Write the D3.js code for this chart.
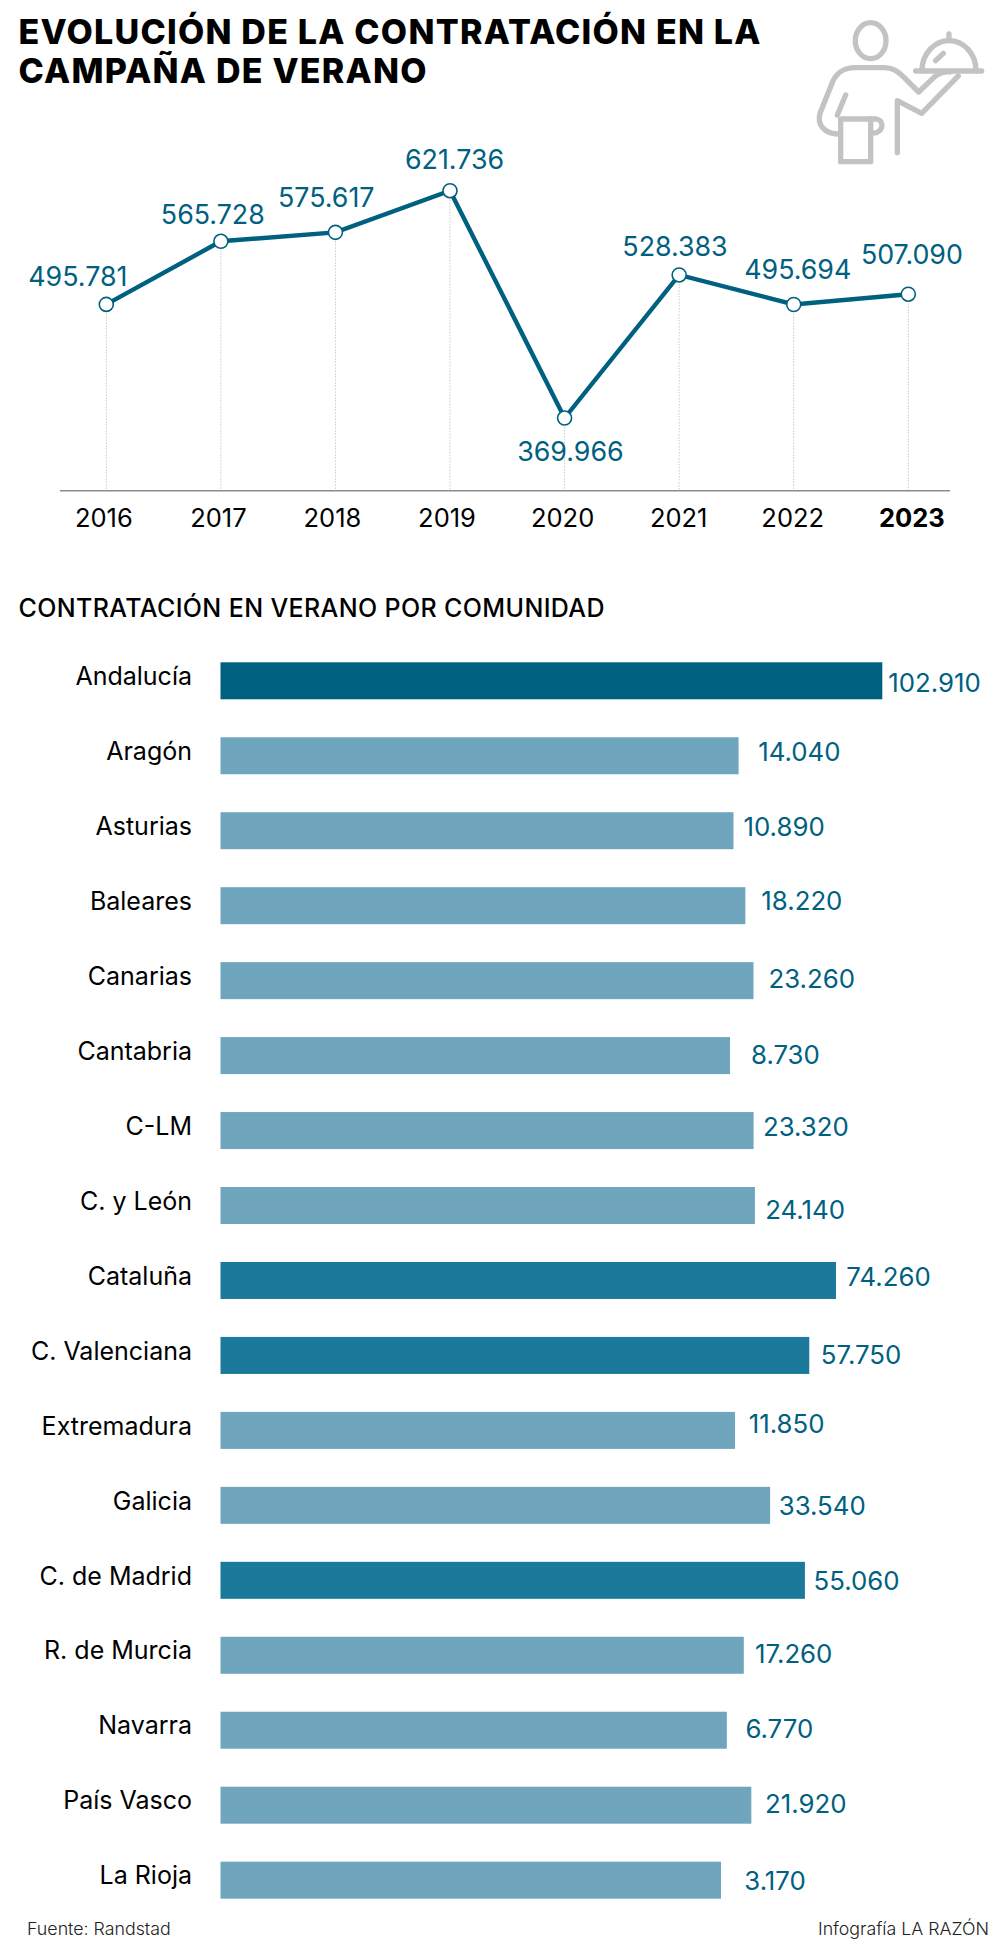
<!DOCTYPE html>
<html lang="es">
<head>
<meta charset="utf-8">
<title>Evolución de la contratación en la campaña de verano</title>
<script src="https://cdn.jsdelivr.net/npm/d3@7"></script>
<style>
  html, body { margin: 0; padding: 0; background: #fff; }
  svg { display: block; }
  text { font-family: Inter, sans-serif; }
</style>
</head>
<body>
<div id="chart"></div>
<script>
// Line chart data
const years = ["2016", "2017", "2018", "2019", "2020", "2021", "2022", "2023"];
const yearValues = [495781, 565728, 575617, 621736, 369966, 528383, 495694, 507090];

// Bar chart data
const regions = ["Andalucía", "Aragón", "Asturias", "Baleares", "Canarias", "Cantabria", "C-LM", "C. y León", "Cataluña",
  "C. Valenciana", "Extremadura", "Galicia", "C. de Madrid", "R. de Murcia", "Navarra", "País Vasco", "La Rioja"];
const regionValues = [102910, 14040, 10890, 18220, 23260, 8730, 23320, 24140, 74260, 57750, 11850, 33540, 55060, 17260, 6770, 21920, 3170];

// Hand placed labels in the original, so the nudges are kept apart from the values
const yearLabelNudge = [[-78, -18.3], [-60, -17.7], [-57.4, -25.3], [-45, -21.7], [-47.4, 42.7], [-56.8, -19.3], [-49.5, -25.6], [-47.4, -30.6]];
const yearTickNudge = [-3, -3, -3.5, -3.5, -2.5, -1, -1.5, 3];
const barLabelGap = [6, 19.6, 10, 16, 15, 21, 9.4, 10.3, 10.4, 11.6, 13.7, 8.6, 8.7, 11.3, 18.6, 13.7, 23.3];
const barLabelBase = [29.7, 23.7, 23.5, 22.8, 25.9, 26.6, 23.9, 32.3, 23.7, 27, 21, 28.1, 28.5, 25.9, 26.3, 26.3, 28.3];

const width = 1006;
const height = 1944;
const lineColor = "#00607f";
const labelColor = "#00607f";

const svg = d3.select("#chart").append("svg")
  .attr("width", width)
  .attr("height", height)
  .attr("viewBox", `0 0 ${width} ${height}`);

// Title
const titleLines = ["EVOLUCIÓN DE LA CONTRATACIÓN EN LA", "CAMPAÑA DE VERANO"];
const titleLengths = [742, 408];
svg.selectAll("text.title")
  .data(titleLines)
  .enter().append("text")
  .attr("class", "title")
  .attr("x", 18.5)
  .attr("y", (d, i) => 43.5 + i * 39)
  .attr("font-size", 34)
  .attr("font-weight", 800)
  .attr("fill", "#000")
  .attr("textLength", (d, i) => titleLengths[i])
  .attr("lengthAdjust", "spacing")
  .text(d => d);

// Waiter icon, traced in a 3x space
const icon = svg.append("g")
  .attr("transform", "translate(780,0) scale(0.3333)")
  .attr("fill", "none")
  .attr("stroke", "#c4c2c2")
  .attr("stroke-width", 16)
  .attr("stroke-linecap", "round")
  .attr("stroke-linejoin", "round");
icon.append("ellipse").attr("cx", 272).attr("cy", 122).attr("rx", 46).attr("ry", 54);
icon.append("path").attr("d", "M175,402 C135,402 110,375 120,340 L158,245 C170,218 195,203 225,203 L310,203 C340,203 355,215 372,232 L416,276 L462,232 C478,218 495,215 510,216");
icon.append("path").attr("d", "M352,458 L352,302 L425,340 L535,228");
icon.append("path").attr("d", "M197,285 L172,345");
icon.append("path").attr("d", "M182,357 L272,357 L272,485 L182,485 Z");
icon.append("path").attr("d", "M272,357 L290,357 C310,362 312,388 290,398 L272,400");
icon.append("path").attr("d", "M426,212 C426,160 465,122 507,122 C550,122 588,160 588,212");
icon.append("path").attr("d", "M507,102 L507,120");
icon.append("path").attr("d", "M407,213 L605,213");
icon.append("path").attr("d", "M467,182 L490,160");

// Line chart
const xLine = d3.scalePoint().domain(years).range([106.3, 908.3]);
const yLine = d3.scaleLinear().domain([289456, 621736]).range([490.7, 190.7]);
const lineData = years.map((y, i) => ({ year: y, value: yearValues[i], i: i }));

svg.append("g").selectAll("line")
  .data(lineData)
  .enter().append("line")
  .attr("x1", d => xLine(d.year))
  .attr("x2", d => xLine(d.year))
  .attr("y1", d => yLine(d.value))
  .attr("y2", yLine.range()[0])
  .attr("stroke", "#c9c9c9")
  .attr("stroke-width", 1)
  .attr("stroke-dasharray", "1.5 1.5");

// bottom axis, the ticks themselves are not drawn
const xAxis = svg.append("g")
  .attr("transform", `translate(0,${yLine.range()[0]})`)
  .call(d3.axisBottom(xLine).tickSize(0).tickPadding(0));
xAxis.select(".domain").remove();
xAxis.append("line")
  .attr("x1", 60).attr("x2", 950)
  .attr("stroke", "#8c8c8c")
  .attr("stroke-width", 1.6);
xAxis.attr("font-family", null);
xAxis.selectAll(".tick text")
  .attr("y", 36.6)
  .attr("dy", 0)
  .attr("dx", (d, i) => yearTickNudge[i])
  .attr("font-size", 25.5)
  .attr("font-weight", d => d === "2023" ? 700 : 400)
  .attr("fill", "#000");

const line = d3.line().x(d => xLine(d.year)).y(d => yLine(d.value));
svg.append("path")
  .datum(lineData)
  .attr("d", line)
  .attr("fill", "none")
  .attr("stroke", lineColor)
  .attr("stroke-width", 4.4)
  .attr("stroke-linejoin", "miter");

svg.append("g").selectAll("circle")
  .data(lineData)
  .enter().append("circle")
  .attr("cx", d => xLine(d.year))
  .attr("cy", d => yLine(d.value))
  .attr("r", 7)
  .attr("fill", "#fff")
  .attr("stroke", lineColor)
  .attr("stroke-width", 1.6);

const esNumber = v => d3.format(",")(v).replace(/,/g, ".");

svg.append("g").selectAll("text")
  .data(lineData)
  .enter().append("text")
  .attr("x", d => xLine(d.year) + yearLabelNudge[d.i][0])
  .attr("y", d => yLine(d.value) + yearLabelNudge[d.i][1])
  .attr("font-size", 26.8)
  .attr("fill", labelColor)
  .text(d => esNumber(d.value));

// Bar chart
svg.append("text")
  .attr("x", 18.5)
  .attr("y", 616.5)
  .attr("font-size", 25)
  .attr("font-weight", 500)
  .attr("fill", "#000")
  .attr("textLength", 586)
  .attr("lengthAdjust", "spacing")
  .text("CONTRATACIÓN EN VERANO POR COMUNIDAD");

// The bars do not start at zero in the original, the base is far below it
const xBar = d3.scaleLinear().domain([-306350, 102910]).range([220.5, 882.3]);
const barColor = d3.scaleThreshold().domain([50000, 100000]).range(["#70a5be", "#1b7a9b", "#00607f"]);
const barData = regions.map((r, i) => ({ region: r, value: regionValues[i], i: i }));
const rowTop = i => 662.3 + i * 74.96;

svg.append("g").selectAll("rect")
  .data(barData)
  .enter().append("rect")
  .attr("x", xBar.range()[0])
  .attr("y", d => rowTop(d.i))
  .attr("width", d => xBar(d.value) - xBar.range()[0])
  .attr("height", 37)
  .attr("fill", d => barColor(d.value));

svg.append("g").selectAll("text")
  .data(barData)
  .enter().append("text")
  .attr("x", 192)
  .attr("y", d => rowTop(d.i) + 22.7)
  .attr("text-anchor", "end")
  .attr("font-size", 25)
  .attr("fill", "#000")
  .text(d => d.region);

svg.append("g").selectAll("text")
  .data(barData)
  .enter().append("text")
  .attr("x", d => xBar(d.value) + barLabelGap[d.i])
  .attr("y", d => rowTop(d.i) + barLabelBase[d.i])
  .attr("font-size", 25.8)
  .attr("fill", labelColor)
  .text(d => esNumber(d.value));

// Footer
svg.append("text")
  .attr("x", 27)
  .attr("y", 1935)
  .attr("font-size", 17.8)
  .attr("font-weight", 300)
  .attr("fill", "#222")
  .text("Fuente: Randstad");

svg.append("text")
  .attr("x", 989)
  .attr("y", 1935)
  .attr("text-anchor", "end")
  .attr("font-size", 17.8)
  .attr("font-weight", 300)
  .attr("fill", "#222")
  .text("Infografía LA RAZÓN");
</script>
</body>
</html>
